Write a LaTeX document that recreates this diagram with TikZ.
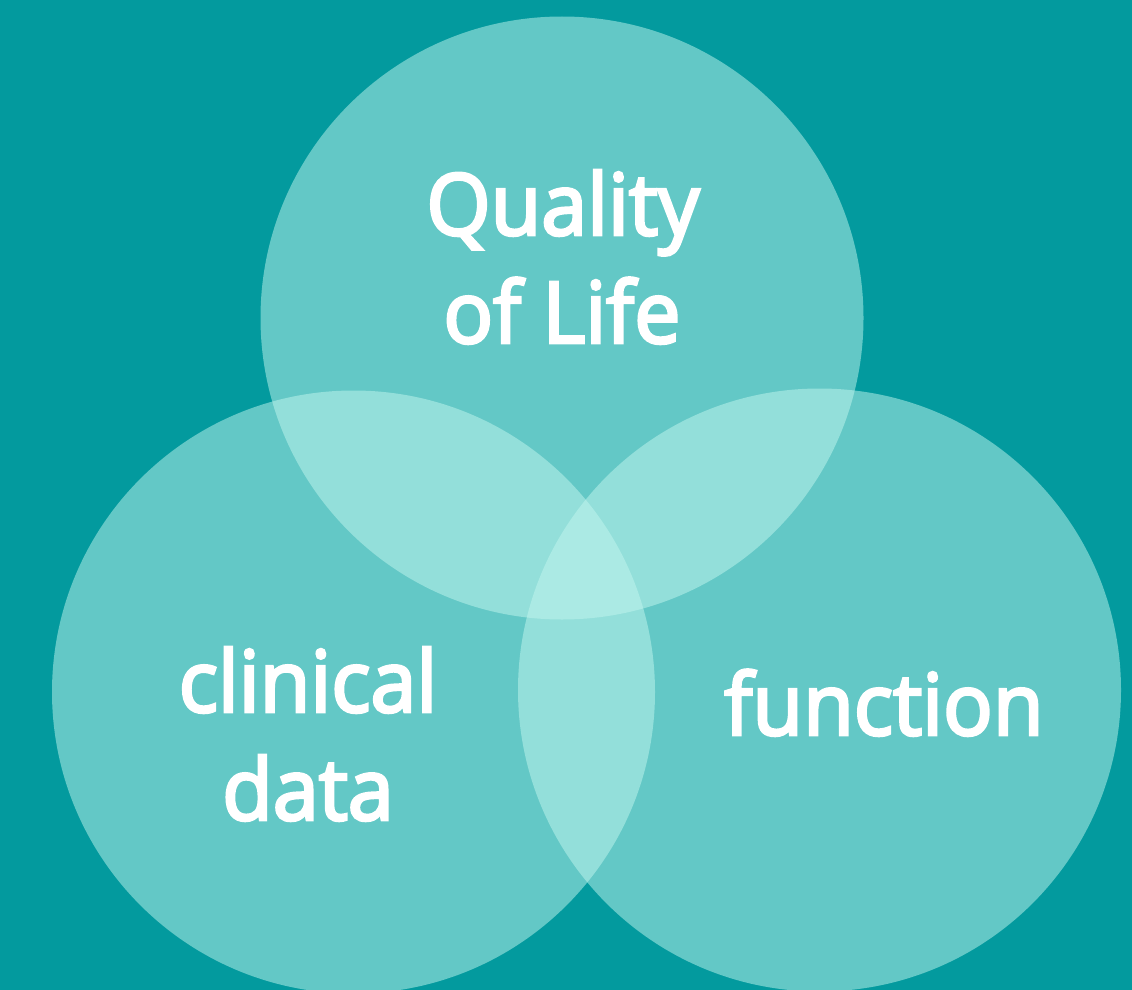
\documentclass[tikz,border=0pt]{standalone}
\usepackage{fontspec}
\newfontfamily\osf{Open Sans}[FakeBold=3.4,FakeStretch=0.965]
\definecolor{bgteal}{RGB}{3,154,158}
\definecolor{circfill}{RGB}{195,246,238}
\begin{document}
\begin{tikzpicture}[x=1pt,y=-1pt,
  venn/.style={fill=circfill,fill opacity=0.5,draw=none},
  lbl/.style={text=white,font=\osf\fontsize{85.5}{108}\selectfont,inner sep=0pt,anchor=base}]
\fill[bgteal] (0,0) rectangle (1132,990);
\useasboundingbox (0,0) rectangle (1132,990);
\fill[venn] (562,318) circle[radius=301.5];
\fill[venn] (353.5,692) circle[radius=301.5];
\fill[venn] (819.5,690) circle[radius=301.5];
\node[lbl] (q1) at (563,235) {Quality};
\node[lbl] (q2) at (562,343) {of Life};
\node[lbl] (c1) at (308,712) {clinical};
\node[lbl] (c2) at (308,820) {data};
\node[lbl] (f1) at (884,735) {function};
\end{tikzpicture}
\end{document}
